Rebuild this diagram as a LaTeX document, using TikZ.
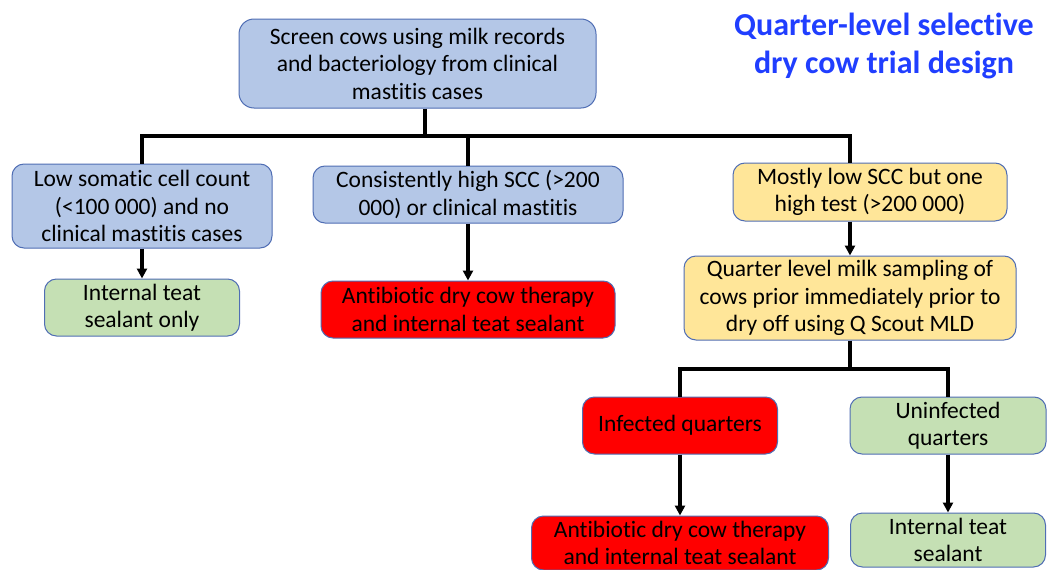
\documentclass[tikz,border=0pt]{standalone}
\usepackage{fontspec}
\setmainfont{Carlito}[Ligatures=NoCommon]
\usetikzlibrary{arrows.meta}
\definecolor{bxblue}{RGB}{180,199,231}
\definecolor{bxgreen}{RGB}{197,224,180}
\definecolor{bxyellow}{RGB}{255,230,153}
\definecolor{bxred}{RGB}{255,0,0}
\definecolor{bord}{RGB}{80,110,180}
\definecolor{titleblue}{RGB}{32,62,255}
\begin{document}
\begin{tikzpicture}[x=1pt,y=-1pt,
  box/.style={draw=bord, line width=1pt, rounded corners=12pt, align=center,
    inner sep=0pt, font=\fontsize{23.5}{27.5}\selectfont},
  conn/.style={line width=3.2pt, black},
  arr/.style={conn, -{Triangle[length=10pt,width=10pt]}}]
\clip (0,0) rectangle (1053,570);
\fill[white] (0,0) rectangle (1053,570);

\node[box, fill=bxblue, minimum width=357pt, minimum height=89pt, rounded corners=15pt] (top) at (417.5,63.5)
  {Screen cows using milk records\\and bacteriology from clinical\\mastitis cases};
\node[box, fill=bxblue, minimum width=260pt, minimum height=84pt] (low) at (142,206)
  {Low somatic cell count\\(<100 000) and no\\clinical mastitis cases};
\node[box, fill=bxblue, minimum width=310pt, minimum height=57pt] (high) at (468,194.5)
  {Consistently high SCC (>200\\000) or clinical mastitis};
\node[box, fill=bxyellow, minimum width=274pt, minimum height=58pt] (most) at (870,192)
  {Mostly low SCC but one\\high test (>200 000)};
\node[box, fill=bxgreen, minimum width=195pt, minimum height=57pt] (seal1) at (142,307.5)
  {Internal teat\\sealant only};
\node[box, fill=bxred, minimum width=294pt, minimum height=57pt] (anti1) at (468,309.5)
  {Antibiotic dry cow therapy\\and internal teat sealant};
\node[box, fill=bxyellow, minimum width=332pt, minimum height=84pt] (quart) at (850,298)
  {Quarter level milk sampling of\\cows prior immediately prior to\\dry off using Q Scout MLD};
\node[box, fill=bxred, minimum width=195pt, minimum height=57pt] (inf) at (680,425.5)
  {Infected quarters};
\node[box, fill=bxgreen, minimum width=196pt, minimum height=57pt] (uninf) at (948,425.5)
  {Uninfected\\quarters};
\node[box, fill=bxred, minimum width=297pt, minimum height=54pt] (anti2) at (680,543)
  {Antibiotic dry cow therapy\\and internal teat sealant};
\node[box, fill=bxgreen, minimum width=195pt, minimum height=54pt] (seal2) at (948,540)
  {Internal teat\\sealant};

\node[align=center, text=titleblue, font=\fontsize{32}{38}\selectfont\bfseries] (title) at (884,46)
  {Quarter-level selective\\dry cow trial design};

\coordinate (j1) at (425,136);
\coordinate (j2) at (850,369);

\draw[conn] ([xshift=7.5pt]top.south) -- (j1);
\draw[conn] (j1) -| (low.north);
\draw[conn] (j1) -| (high.north);
\draw[conn] (j1) -| ([xshift=-20pt]most.north);
\draw[arr] (low.south) -- (seal1.north);
\draw[arr] (high.south) -- (anti1.north);
\draw[arr] ([xshift=-20pt]most.south) -- (quart.north);
\draw[conn] (quart.south) -- (j2);
\draw[conn] (j2) -| (inf.north);
\draw[conn] (j2) -| (uninf.north);
\draw[arr] (inf.south) -- (anti2.north);
\draw[arr] (uninf.south) -- (seal2.north);
\end{tikzpicture}
\end{document}
